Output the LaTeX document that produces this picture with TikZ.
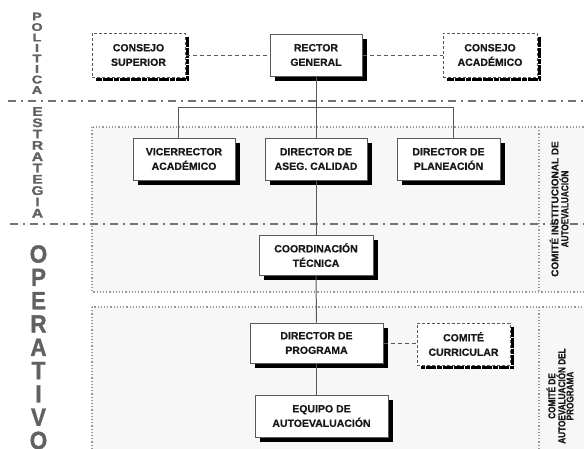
\documentclass[tikz,border=0pt]{standalone}
\usepackage{fontspec}
\setmainfont{Liberation Sans}
\newfontfamily\boldf[FakeBold=0.6]{Liberation Sans Bold}
\newfontfamily\heavyf[FakeBold=1.2]{Liberation Sans Bold}
\begin{document}
\begin{tikzpicture}[x=1pt,y=-1pt,
  boxfont/.style={font=\boldf\fontsize{10.5}{14.5}\selectfont, text=black!90},
  solidbox/.style={draw=black!65, line width=1pt, fill=white, align=center, inner sep=0pt, boxfont},
  dashbox/.style={draw=black!65, line width=1pt, dash pattern=on 3pt off 2pt, fill=white, align=center, inner sep=0pt, boxfont},
  shadowbox/.style={fill=black, draw=none, inner sep=0pt},
  dshadow/.style={draw=black, line width=3.2pt, line join=miter, dash pattern=on 5pt off 0.6pt},
  region/.style={draw=black!40, line width=1.2pt, dotted, fill=black!3},
  regionline/.style={draw=black!40, line width=1.2pt, dotted},
  dashdotline/.style={draw=black!55, line width=1.6pt, dash pattern=on 8pt off 5pt on 2pt off 5pt},
  link/.style={draw=black!65, line width=1pt},
  dlink/.style={draw=black!65, line width=1pt, dash pattern=on 4pt off 3pt},
  sidelbl/.style={align=center, inner sep=0pt, text=black!62},
  collbl/.style={align=center, inner sep=0pt, rotate=90, text=black!90}
]
\useasboundingbox (0,0) rectangle (584,448);

% regions
\draw[region] (92,127) rectangle (600,292);
\draw[region] (92,307) rectangle (600,460);
\draw[regionline] (539,127) -- (539,292);
\draw[regionline] (539,307) -- (539,460);
% dash-dot separators
\draw[dashdotline] (8,101) -- (584,101);
\draw[dashdotline] (10,224) -- (584,224);

% side labels
\node[sidelbl, anchor=north, xscale=1.3, font=\heavyf\fontsize{11.2}{10.5}\selectfont] (pol) at (37,12.5) {P\\O\\L\\I\\T\\I\\C\\A};
\node[sidelbl, anchor=north, xscale=1.25, font=\heavyf\fontsize{12.5}{11.3}\selectfont] (est) at (37.5,107) {E\\S\\T\\R\\A\\T\\E\\G\\I\\A};
\node[sidelbl, anchor=north, xscale=0.9, font=\heavyf\fontsize{25}{23.3}\selectfont] (ope) at (38.5,245) {O\\P\\E\\R\\A\\T\\I\\V\\O};

% shadows of the solid boxes (drawn first, under the boxes)
\node[shadowbox, minimum width=92pt, minimum height=42pt] (rector-s) at (321,60) {};
\node[shadowbox, minimum width=102pt, minimum height=42pt] (vice-s) at (189,164) {};
\node[shadowbox, minimum width=102pt, minimum height=42pt] (aseg-s) at (321,164) {};
\node[shadowbox, minimum width=103pt, minimum height=42pt] (plan-s) at (453.5,164) {};
\node[shadowbox, minimum width=114pt, minimum height=40pt] (coord-s) at (321,260) {};
\node[shadowbox, minimum width=133pt, minimum height=40pt] (dprog-s) at (321.5,348) {};
\node[shadowbox, minimum width=133pt, minimum height=42pt] (equipo-s) at (326.5,421) {};

% nodes
\node[solidbox, minimum width=92pt, minimum height=42pt] (rector) at (316,55) {RECTOR\\GENERAL};
\node[dashbox, minimum width=93pt, minimum height=44pt] (csup) at (138.5,55) {CONSEJO\\SUPERIOR};
\node[dashbox, minimum width=94pt, minimum height=44pt] (cacad) at (490,55) {CONSEJO\\ACADÉMICO};

\node[solidbox, minimum width=102pt, minimum height=42pt] (vice) at (184,159) {VICERRECTOR\\ACADÉMICO};
\node[solidbox, minimum width=102pt, minimum height=42pt] (aseg) at (316,159) {DIRECTOR DE\\ASEG. CALIDAD};
\node[solidbox, minimum width=103pt, minimum height=42pt] (plan) at (448.5,159) {DIRECTOR DE\\PLANEACIÓN};

\node[solidbox, minimum width=114pt, minimum height=40pt] (coord) at (316,255) {COORDINACIÓN\\TÉCNICA};

\node[solidbox, minimum width=133pt, minimum height=40pt] (dprog) at (316.5,343) {DIRECTOR DE\\PROGRAMA};
\node[dashbox, minimum width=93pt, minimum height=42pt] (ccurr) at (463.5,344) {COMITÉ\\CURRICULAR};
\node[solidbox, minimum width=133pt, minimum height=42pt] (equipo) at (321.5,416) {EQUIPO DE\\AUTOEVALUACIÓN};

% shadows of the dashed boxes (drawn beside them)
\foreach \n in {csup,cacad,ccurr}
  \draw[dshadow] ([shift={(2.2,4)}]\n.north east) -- ([shift={(2.2,2.2)}]\n.south east) -- ([shift={(4,2.2)}]\n.south west);

% right column labels
\node[collbl, font=\boldf\fontsize{10}{8.3}\selectfont] (cinst) at (559,209) {COMITÉ INSTITUCIONAL DE\\\scalebox{0.82}[1]{AUTOEVALUACIÓN}};
\node[collbl, font=\boldf\fontsize{10}{8.2}\selectfont] (cprog) at (560,396) {\scalebox{0.82}[1]{COMITÉ DE}\\\scalebox{0.82}[1]{AUTOEVALUACIÓN DEL}\\\scalebox{0.82}[1]{PROGRAMA}};

% connectors
\coordinate (bl) at (178,107);
\coordinate (brr) at (453,107);
\draw[link] (rector.south) -- (aseg.north);
\draw[link] (bl |- vice.north) -- (bl) -- (brr) -- (brr |- plan.north);
\draw[link] (aseg.south) -- (coord.north);
\draw[link] (coord.south) -- (dprog.north);
\draw[link] (dprog.south) -- (dprog.south |- equipo.north);
\draw[dlink] (csup.east) -- (rector.west);
\draw[dlink] (rector.east) -- (cacad.west);
\draw[dlink] (dprog.east) -- (dprog.east -| ccurr.west);
\end{tikzpicture}
\end{document}
